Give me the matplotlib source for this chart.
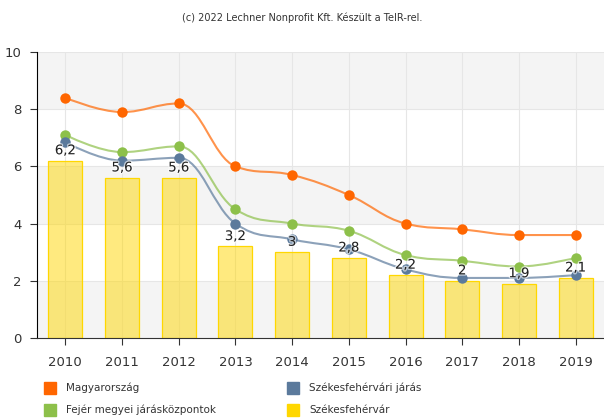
import numpy as np
import matplotlib
matplotlib.use("Agg")
import matplotlib.pyplot as plt
from matplotlib.path import Path
from matplotlib.patches import PathPatch, Rectangle
import matplotlib.patheffects as pe

years = ['2010', '2011', '2012', '2013', '2014', '2015', '2016', '2017', '2018', '2019']
magyarorszag = [8.4, 7.9, 8.2, 6.0, 5.7, 5.0, 4.0, 3.8, 3.6, 3.6]
fejer = [7.1, 6.5, 6.7, 4.5, 4.0, 3.75, 2.9, 2.7, 2.5, 2.8]
jaras = [6.85, 6.2, 6.3, 4.0, 3.45, 3.1, 2.4, 2.1, 2.1, 2.2]
szfvar = [6.2, 5.6, 5.6, 3.2, 3.0, 2.8, 2.2, 2.0, 1.9, 2.1]

C_ORANGE = '#FF6600'
C_GREEN = '#8DC04A'
C_BLUE = '#5B7A9C'
C_YELLOW = '#FFD700'


def spline_path(xs, ys, smoothing=1.5):
    """Highcharts-szeru spline: cubic Bezier kontrollpontokkal."""
    n = len(xs)
    denom = smoothing + 1
    left = [None] * n
    right = [None] * n
    for i in range(1, n - 1):
        px, py = xs[i], ys[i]
        lx, ly = xs[i - 1], ys[i - 1]
        nx, ny = xs[i + 1], ys[i + 1]
        lcx = (smoothing * px + lx) / denom
        lcy = (smoothing * py + ly) / denom
        rcx = (smoothing * px + nx) / denom
        rcy = (smoothing * py + ny) / denom
        corr = (rcy - lcy) * (rcx - px) / (rcx - lcx) + py - rcy
        lcy += corr
        rcy += corr
        if lcy > max(ly, py):
            lcy = max(ly, py)
            rcy = 2 * py - lcy
        elif lcy < min(ly, py):
            lcy = min(ly, py)
            rcy = 2 * py - lcy
        if rcy > max(py, ny):
            rcy = max(py, ny)
            lcy = 2 * py - rcy
        elif rcy < min(py, ny):
            rcy = min(py, ny)
            lcy = 2 * py - rcy
        left[i] = (lcx, lcy)
        right[i] = (rcx, rcy)
    verts = [(xs[0], ys[0])]
    codes = [Path.MOVETO]
    for i in range(1, n):
        c1 = right[i - 1] if right[i - 1] else (xs[i - 1], ys[i - 1])
        c2 = left[i] if left[i] else (xs[i], ys[i])
        verts += [c1, c2, (xs[i], ys[i])]
        codes += [Path.CURVE4] * 3
    return Path(verts, codes)


fig = plt.figure(figsize=(6.04, 4.19), dpi=100)
ax = fig.add_axes([37 / 604, 81 / 419, 567 / 604, 286 / 419])

x = np.arange(len(years))
ax.set_xlim(-0.5, len(years) - 0.5)
ax.set_ylim(0, 10)

# savok a hatterben
for lo in (0, 4, 8):
    ax.axhspan(lo, lo + 2, color='#F4F4F4', zorder=0, lw=0)
for yv in (2, 4, 6, 8, 10):
    ax.axhline(yv, color='#E6E6E6', lw=0.8, zorder=0.5)
for xv in x:
    ax.axvline(xv, color='#E6E6E6', lw=0.8, zorder=0.5)

ax.bar(x, szfvar, width=0.6, color=C_YELLOW, alpha=0.5, zorder=1)
ax.bar(x, szfvar, width=0.6, facecolor='none', edgecolor=C_YELLOW, lw=0.9, zorder=1.1)

for vals, col in ((magyarorszag, C_ORANGE), (fejer, C_GREEN), (jaras, C_BLUE)):
    ax.add_patch(PathPatch(spline_path(x, vals), facecolor='none', edgecolor=col,
                           lw=1.5, alpha=0.7, zorder=3))
    ax.plot(x, vals, 'o', color=col, ms=7.5, mec='none', zorder=3.5)

for xi, v in zip(x, szfvar):
    lbl = f'{v:g}'.replace('.', ',')
    ax.text(xi, v + 0.12, lbl, ha='center', va='bottom', fontsize=9.5, color='#222222',
            zorder=6, path_effects=[pe.withStroke(linewidth=2, foreground='white', alpha=0.6)])

ax.set_yticks([0, 2, 4, 6, 8, 10])
ax.set_xticks(x)
ax.set_xticklabels(years)
ax.tick_params(axis='y', length=5, labelsize=9.5, colors='#333333', pad=6)
ax.tick_params(axis='x', length=5, labelsize=9.5, colors='#333333', pad=8)
ax.tick_params(axis='both', color='#333333')
for s in ('top', 'right'):
    ax.spines[s].set_visible(False)
ax.spines['left'].set_color('#000000')
ax.spines['bottom'].set_color('#333333')

fig.text(302 / 604, 1 - 18 / 419, '(c) 2022 Lechner Nonprofit Kft. Készült a TeIR-rel.',
         ha='center', va='center', fontsize=7, color='#333333')

legend_items = [
    (44, 388, C_ORANGE, 'Magyarország'),
    (287, 388, C_BLUE, 'Székesfehérvári járás'),
    (44, 410, C_GREEN, 'Fejér megyei járásközpontok'),
    (287, 410, C_YELLOW, 'Székesfehérvár'),
]
for px, py, col, name in legend_items:
    fig.patches.append(Rectangle((px / 604, 1 - (py + 6) / 419), 12 / 604, 12 / 419,
                                 transform=fig.transFigure, color=col))
    fig.text((px + 22) / 604, 1 - py / 419, name, ha='left', va='center',
             fontsize=7.5, color='#333333')

fig.savefig('out.png', dpi=100)
